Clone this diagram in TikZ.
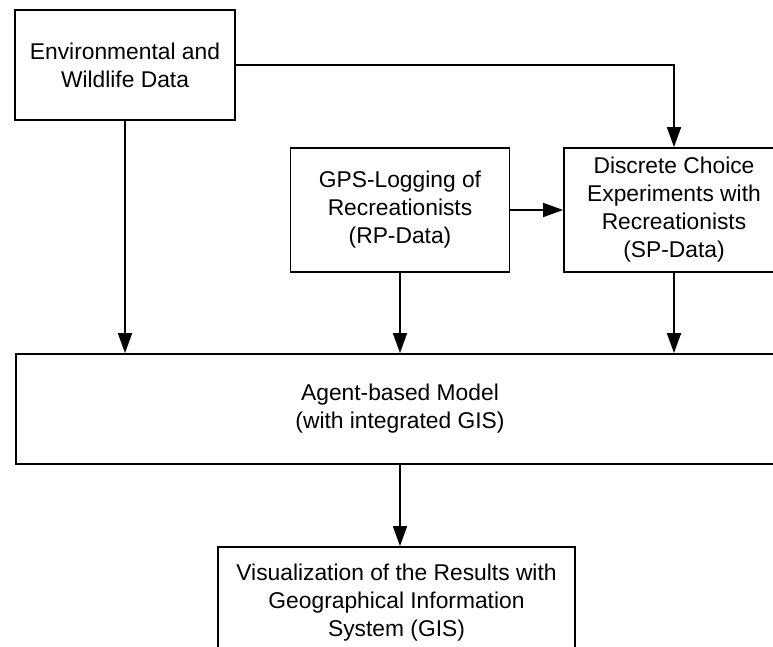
\documentclass[tikz,border=0pt]{standalone}
\usepackage{fontspec}
\setmainfont{Liberation Sans}
\usetikzlibrary{arrows.meta,positioning}

\tikzset{
    block/.style = {draw, line width=1.8pt, rectangle, align=center, inner sep=0pt,
                    font=\fontsize{22.8}{28}\selectfont},
    flow/.style  = {line width=1.8pt, -{Triangle[length=20pt,width=14pt]}}
}

\begin{document}
\begin{tikzpicture}[x=1pt, y=-1pt]
    \useasboundingbox (0,0) rectangle (773,647);
    \node [block, minimum width=220pt, minimum height=110pt] (env) at (125,65)
        {Environmental and\\Wildlife Data};
    \node [block, minimum width=219pt, minimum height=124pt] (gps) at (400,210)
        {GPS-Logging of\\Recreationists\\(RP-Data)};
    \node [block, minimum width=220pt, minimum height=124pt] (dce) at (674,210)
        {Discrete Choice\\Experiments with\\Recreationists\\(SP-Data)};
    \node [block, minimum width=768pt, minimum height=110pt] (abm) at (400,409)
        {Agent-based Model\\(with integrated GIS)};
    \node [block, minimum width=357pt, minimum height=112pt] (vis) at (396.5,603)
        {Visualization of the Results with\\Geographical Information\\System (GIS)};

    \draw [flow] (env.east) -- (dce.north |- env.east) -- (dce.north);
    \draw [flow] (gps.east) -- (dce.west);
    \draw [flow] (env.south) -- (env.south |- abm.north);
    \draw [flow] (gps.south) -- (gps.south |- abm.north);
    \draw [flow] (dce.south) -- (dce.south |- abm.north);
    \draw [flow] (abm.south) -- (abm.south |- vis.north);
\end{tikzpicture}
\end{document}
